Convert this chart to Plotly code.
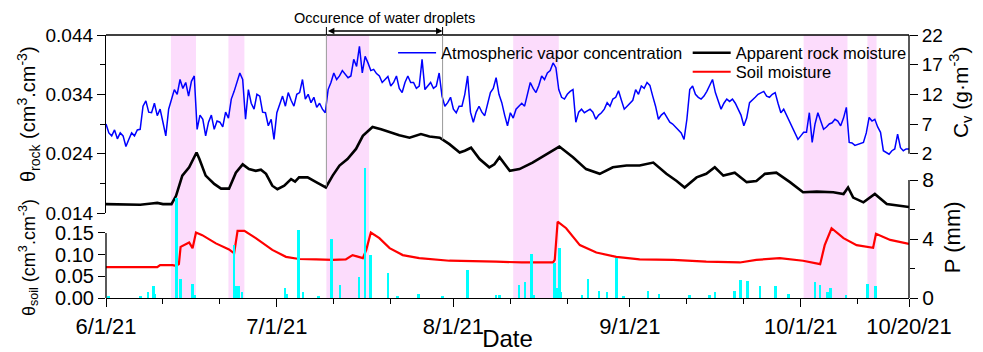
import numpy as np
import pandas as pd
import plotly.graph_objects as go

START = pd.Timestamp("2021-06-01")
N_DAYS = 141

# ---------------- data (day offsets from 2021-06-01) ----------------
# Atmospheric vapor concentration Cv (g m-3), one value every half day
cv_vals = [
    7.0, 5.5, 5.0, 6.0, 4.5, 5.5, 5.0, 3.2, 4.4, 5.5,
    5.0, 6.0, 6.1, 10.0, 10.9, 9.0, 8.9, 10.5, 8.4, 9.5,
    7.3, 5.0, 9.5, 11.0, 12.8, 12.0, 14.5, 13.0, 14.0, 11.7,
    14.2, 15.1, 6.1, 8.5, 7.8, 5.0, 7.3, 8.5, 6.1, 7.5,
    7.3, 6.5, 9.0, 8.0, 11.2, 12.5, 14.0, 15.6, 14.5, 7.8,
    12.8, 10.5, 9.5, 12.0, 11.7, 9.0, 8.9, 6.7, 7.8, 4.4,
    8.9, 10.5, 11.7, 10.0, 12.3, 11.0, 10.0, 12.0, 12.3, 14.5,
    11.2, 12.0, 10.6, 11.5, 9.8, 10.5, 9.5, 8.9, 12.8, 14.0,
    15.6, 14.5, 15.1, 16.0, 15.3, 14.8, 15.1, 17.9, 16.7, 20.1,
    15.6, 18.4, 17.3, 16.0, 16.2, 15.5, 15.1, 14.0, 14.5, 15.0,
    13.4, 14.0, 15.1, 13.0, 12.3, 14.0, 15.1, 14.0, 14.0, 13.0,
    13.4, 17.9, 12.8, 13.5, 14.0, 13.0, 13.4, 15.6, 11.7, 10.0,
    10.6, 11.5, 9.5, 8.9, 10.0, 10.0, 12.0, 15.1, 9.0, 7.3,
    9.0, 10.0, 9.0, 8.4, 10.5, 12.3, 13.0, 14.8, 12.0, 10.6,
    8.5, 6.7, 8.9, 8.0, 9.5, 10.0, 10.5, 10.0, 12.0, 14.0,
    13.0, 12.3, 13.5, 15.1, 14.5, 15.6, 16.0, 17.3, 16.5, 12.8,
    11.5, 11.2, 12.0, 12.5, 12.8, 7.3, 9.0, 9.5, 8.9, 9.2,
    9.5, 9.0, 7.8, 8.5, 8.9, 9.5, 10.6, 10.0, 11.2, 11.5,
    12.6, 11.0, 9.5, 10.0, 10.6, 11.0, 12.8, 12.0, 13.4, 13.0,
    14.0, 13.5, 11.7, 10.0, 7.8, 8.5, 8.9, 8.0, 7.3, 7.0,
    6.5, 6.1, 5.5, 4.4, 7.8, 12.8, 13.4, 12.0, 11.5, 11.2,
    11.7, 12.5, 13.5, 14.5, 12.3, 11.0, 9.5, 10.5, 11.2, 10.8,
    11.2, 10.5, 9.5, 8.5, 6.7, 8.0, 10.6, 11.0, 11.5, 12.0,
    12.3, 12.5, 11.7, 11.5, 12.0, 12.3, 10.5, 8.9, 9.5, 8.5,
    7.3, 6.5, 5.5, 4.4, 5.0, 5.6, 5.6, 8.9, 3.9, 7.0,
    8.9, 7.5, 6.1, 6.5, 7.0, 7.2, 7.8, 7.5, 6.7, 8.0,
    9.8, 3.9, 3.8, 3.4, 3.6, 3.8, 3.9, 5.5, 8.1, 7.5,
    7.8, 6.5, 5.6, 2.5, 2.2, 1.9, 2.5, 2.8, 5.3, 3.0,
    2.5, 2.8, 2.8,
]
cv_day = [0.5 * i for i in range(len(cv_vals))]

# Apparent rock moisture (cm3 cm-3)
rock_day = [0, 3, 6, 8, 9, 10, 11.5, 12.3, 13.4, 14.6, 15.5, 15.9, 16.4, 17.5, 19,
            20.2, 21.6, 22.8, 24, 25.1, 26.3, 27.2, 28.1, 29.2, 30.1, 31.3, 32.5,
            33.2, 33.9, 35.4, 36.9, 38.6, 39.8, 41, 42.4, 43.9, 45.1, 46, 46.8,
            48.3, 49.8, 51.5, 53.3, 55.3, 56.8, 58.6, 60.3, 62.1, 63, 64.1, 65.6,
            67.3, 68.2, 69.1, 70.9, 72.6, 74.9, 77.3, 79.6, 82, 84.3, 86.7, 89,
            91.4, 93.7, 96.1, 98.4, 100.2, 101.6, 103.7, 105.4, 106.9, 108.4,
            110.4, 112.5, 114.2, 115.7, 117.7, 120.1, 122.4, 124.8, 127.7, 129.5,
            130.3, 131.2, 133, 135, 137.1, 139.4, 141]
rock_val = [0.0155, 0.0155, 0.0154, 0.0156, 0.0157, 0.0155, 0.0155, 0.0169, 0.0203,
            0.0217, 0.0234, 0.0242, 0.0231, 0.0203, 0.0189, 0.0181, 0.0181, 0.0208,
            0.0222, 0.0214, 0.0211, 0.0213, 0.0206, 0.0186, 0.0180, 0.0186, 0.0197,
            0.0193, 0.0200, 0.0200, 0.0192, 0.0183, 0.0203, 0.0220, 0.0231, 0.0248,
            0.0270, 0.0278, 0.0285, 0.0281, 0.0276, 0.0271, 0.0267, 0.0273, 0.0269,
            0.0267, 0.0256, 0.0242, 0.0245, 0.0250, 0.0231, 0.0217, 0.0222, 0.0234,
            0.0211, 0.0214, 0.0225, 0.0239, 0.0252, 0.0234, 0.0214, 0.0206, 0.0217,
            0.0220, 0.0220, 0.0225, 0.0206, 0.0194, 0.0183, 0.0200, 0.0206, 0.0217,
            0.0203, 0.0208, 0.0192, 0.0194, 0.0206, 0.0208, 0.0192, 0.0175, 0.0176,
            0.0175, 0.0172, 0.0183, 0.0166, 0.0158, 0.0172, 0.0155, 0.0152, 0.0150]

# Soil moisture (cm3 cm-3)
soil_day = [0, 5, 9, 9.5, 11.7, 12.3, 12.8, 13.1, 14.6, 15.2, 15.8, 16.9, 19.3, 21.6,
            22.5, 23.1, 24.3, 26.3, 29.2, 31.6, 33.9, 36.9, 39.8, 42.1, 43.3, 45.1,
            45.7, 46.5, 48, 49.8, 52.1, 55, 60.3, 68.5, 73, 78.5, 78.8, 79.3, 80.8,
            83.2, 86.1, 89.6, 93.7, 99.6, 105.4, 111.3, 114.2, 118.3, 122.4, 125.4,
            126.2, 127.4, 129.5, 131.8, 134.7, 135.2, 137.7, 141]
soil_val = [0.071, 0.071, 0.071, 0.076, 0.076, 0.074, 0.078, 0.118, 0.128, 0.115,
            0.151, 0.145, 0.126, 0.112, 0.103, 0.155, 0.155, 0.138, 0.111, 0.095,
            0.090, 0.089, 0.088, 0.089, 0.099, 0.092, 0.111, 0.151, 0.138, 0.115,
            0.099, 0.092, 0.086, 0.084, 0.082, 0.082, 0.088, 0.176, 0.161, 0.122,
            0.105, 0.095, 0.089, 0.088, 0.084, 0.082, 0.088, 0.092, 0.086, 0.078,
            0.122, 0.161, 0.138, 0.122, 0.116, 0.148, 0.134, 0.125]

# Precipitation P (mm)
p_day = [0.4, 6.1, 7.4, 8.3, 8.6, 12.4, 13.1, 15.2, 15.6, 22.5, 22.8, 23.3, 23.9,
         31.4, 31.7, 33.8, 34.6, 37.3, 39.6, 41.1, 44.4, 45.5, 46.4, 49.5, 51.2,
         54.9, 59.1, 63.5, 68.5, 69.1, 72.5, 73.6, 74.7, 75.1, 78.8, 79.2, 79.6,
         79.9, 83.6, 84.6, 86.6, 88.0, 89.6, 90.9, 95.2, 97.1, 102.5, 106.0, 106.9,
         110.4, 111.4, 112.6, 114.8, 117.6, 119.8, 124.5, 125.4, 126.7, 127.2,
         129.9, 133.7, 135.1]
p_val = [0.1, 0.1, 0.4, 0.8, 0.3, 6.8, 1.3, 0.95, 0.2, 3.6, 0.8, 0.8, 0.4, 0.7, 0.3,
         4.6, 0.4, 0.1, 4.0, 0.9, 1.4, 8.8, 2.9, 1.7, 0.1, 0.3, 0.1, 1.9, 0.2, 0.2,
         0.9, 1.1, 3.0, 0.2, 2.4, 0.7, 3.4, 0.4, 0.2, 1.3, 0.5, 0.4, 2.7, 0.1, 0.5,
         0.3, 0.2, 0.2, 0.4, 0.5, 1.2, 1.15, 0.8, 0.8, 0.3, 1.1, 0.9, 0.4, 0.7, 0.2,
         0.95, 0.8]

# Rain periods (shaded) and water-droplet period
rain_periods = [(11.4, 15.8), (21.5, 24.3), (38.7, 46.2), (71.5, 79.5),
                (122.5, 130.2), (133.7, 135.3)]
droplet_period = (38.7, 59.1)

x_tick_days = [0, 30, 61, 92, 122, 141]
x_tick_labels = ["6/1/21", "7/1/21", "8/1/21", "9/1/21", "10/1/21", "10/20/21"]
x_minor_days = [10, 20, 40, 50, 71, 81, 102, 112, 132]

rock_ticks = [0.014, 0.024, 0.034, 0.044]
rock_minor = [0.019, 0.029, 0.039]
cv_ticks = [2, 7, 12, 17, 22]
soil_ticks = [0.0, 0.05, 0.10, 0.15]
p_ticks = [0, 4, 8]
p_minor = [2, 6]

# ---------------- helpers ----------------
def to_date(days):
    return [START + pd.Timedelta(days=float(d)) for d in days]

FONT = "Arial, 'Liberation Sans', sans-serif"
ROCK_DOM = [0.3232, 1.0]
LOW_DOM = [0.0, 0.5247]
ROCK_RANGE = [0.014, 0.044]
CV_RANGE = [-8, 22]
SOIL_RANGE = [0, 0.3184]
P_RANGE = [0, 9.356]

def rock_to_paper(v):
    return ROCK_DOM[0] + (v - ROCK_RANGE[0]) / (ROCK_RANGE[1] - ROCK_RANGE[0]) * (ROCK_DOM[1] - ROCK_DOM[0])

fig = go.Figure()

fig.add_trace(go.Scatter(x=to_date(cv_day), y=cv_vals, mode="lines", yaxis="y2",
                         line=dict(color="#0000ff", width=1.5),
                         name="Atmospheric vapor concentration", legend="legend"))
fig.add_trace(go.Scatter(x=to_date(rock_day), y=rock_val, mode="lines", yaxis="y",
                         line=dict(color="black", width=2.6),
                         name="Apparent rock moisture", legend="legend2"))
fig.add_trace(go.Scatter(x=to_date(soil_day), y=soil_val, mode="lines", yaxis="y3",
                         line=dict(color="#ff0000", width=2.2),
                         name="Soil moisture", legend="legend3"))
fig.add_trace(go.Bar(x=to_date(p_day), y=p_val, yaxis="y4", width=0.45 * 86400000,
                     marker=dict(color="#00ffff", line=dict(width=0)),
                     showlegend=False, name="P"))

shapes = []
for s, e in rain_periods:
    d0, d1 = to_date([s, e])
    shapes.append(dict(type="rect", xref="x", yref="paper", x0=d0, x1=d1, y0=0, y1=1,
                       fillcolor="#fcdcfc", line=dict(width=0), layer="below"))
# top frame
shapes.append(dict(type="line", xref="paper", yref="paper", x0=0, x1=1, y0=1, y1=1,
                   line=dict(color="black", width=1.3)))
# partial axis lines
shapes.append(dict(type="line", xref="paper", yref="y2", x0=1, x1=1, y0=cv_ticks[0], y1=cv_ticks[-1],
                   line=dict(color="black", width=1.3)))
shapes.append(dict(type="line", xref="paper", yref="y3", x0=0, x1=0, y0=soil_ticks[0], y1=soil_ticks[-1],
                   line=dict(color="black", width=1.3)))
shapes.append(dict(type="line", xref="paper", yref="y4", x0=1, x1=1, y0=p_ticks[0], y1=p_ticks[-1],
                   line=dict(color="black", width=1.3)))
# droplet guide lines
top_arrow = 1.0304
for d in droplet_period:
    yb = rock_to_paper(float(np.interp(d, rock_day, rock_val)))
    xd = to_date([d])[0]
    shapes.append(dict(type="line", xref="x", yref="paper", x0=xd, x1=xd, y0=yb, y1=1.0,
                       line=dict(color="#9a9a9a", width=1)))
    shapes.append(dict(type="line", xref="x", yref="paper", x0=xd, x1=xd, y0=1.0, y1=top_arrow,
                       line=dict(color="black", width=1)))

annotations = []
ds, de = to_date(droplet_period)
annotations.append(dict(x=de, y=1.0152, xref="x", yref="paper", ax=ds, ay=0, axref="x",
                        ayref="pixel", showarrow=True, arrowhead=2, arrowside="end+start",
                        arrowwidth=1.3, arrowsize=1, arrowcolor="black", text=""))
annotations.append(dict(x=to_date([(droplet_period[0] + droplet_period[1]) / 2])[0], y=1.0646,
                        xref="x", yref="paper", xanchor="center", yanchor="middle", showarrow=False,
                        text="Occurence of water droplets", font=dict(size=14.5, color="black", family=FONT)))
annotations.append(dict(x=-0.0971, y=0.6996, xref="paper", yref="paper", xanchor="center", yanchor="middle",
                        showarrow=False, textangle=-90,
                        text="θ<sub>rock</sub> (cm<sup>3</sup>.cm<sup>-3</sup>)",
                        font=dict(size=20, color="black", family=FONT)))
annotations.append(dict(x=-0.0971, y=0.152, xref="paper", yref="paper", xanchor="center", yanchor="middle",
                        showarrow=False, textangle=-90,
                        text="θ<sub>soil</sub> (cm<sup>3</sup>.cm<sup>-3</sup>)",
                        font=dict(size=18, color="black", family=FONT)))
annotations.append(dict(x=1.0635, y=0.783, xref="paper", yref="paper", xanchor="center", yanchor="middle",
                        showarrow=False, textangle=-90,
                        text="C<sub>v</sub> (g·m<sup>-3</sup>)",
                        font=dict(size=21, color="black", family=FONT)))
annotations.append(dict(x=1.055, y=0.232, xref="paper", yref="paper", xanchor="center", yanchor="middle",
                        showarrow=False, textangle=-90,
                        text="P (mm)", font=dict(size=22, color="black", family=FONT)))

axis_common = dict(showgrid=False, zeroline=False, ticks="outside", tickcolor="black",
                   tickwidth=1.3, linecolor="black", linewidth=1.3, automargin=False)

legend_common = dict(xanchor="left", yanchor="middle", bgcolor="rgba(0,0,0,0)", itemwidth=38,
                     font=dict(size=16.5, family=FONT, color="black"), tracegroupgap=0, borderwidth=0)

fig.update_layout(
    width=983, height=352,
    margin=dict(l=106, r=74, t=35, b=54, autoexpand=False),
    paper_bgcolor="white", plot_bgcolor="rgba(0,0,0,0)",
    font=dict(family=FONT, color="black"),
    showlegend=True,
    bargap=0,
    xaxis=dict(type="date", range=to_date([0, N_DAYS]), anchor="y3", showline=True,
               tickmode="array", tickvals=to_date(x_tick_days), ticktext=x_tick_labels,
               ticklen=8, tickfont=dict(size=22),
               minor=dict(tickmode="array", tickvals=to_date(x_minor_days), ticks="outside",
                          ticklen=5, tickcolor="black", tickwidth=1.3),
               title=dict(text="Date", font=dict(size=24), standoff=0),
               **axis_common),
    yaxis=dict(domain=ROCK_DOM, range=ROCK_RANGE, anchor="x", showline=True,
               tickmode="array", tickvals=rock_ticks, ticktext=[f"{v:.3f}" for v in rock_ticks],
               ticklen=8, tickfont=dict(size=19),
               minor=dict(tickmode="array", tickvals=rock_minor, ticks="outside", ticklen=5,
                          tickcolor="black", tickwidth=1.3),
               **axis_common),
    yaxis2=dict(overlaying="y", side="right", range=CV_RANGE, anchor="x", showline=False,
                tickmode="array", tickvals=cv_ticks, ticktext=[str(v) for v in cv_ticks],
                ticklen=8, tickfont=dict(size=19), **axis_common),
    yaxis3=dict(domain=LOW_DOM, range=SOIL_RANGE, anchor="x", showline=False,
                tickmode="array", tickvals=soil_ticks, ticktext=[f"{v:.2f}" for v in soil_ticks],
                ticklen=7, tickfont=dict(size=20), **axis_common),
    yaxis4=dict(overlaying="y3", side="right", range=P_RANGE, anchor="x", showline=False,
                tickmode="array", tickvals=p_ticks, ticktext=[str(v) for v in p_ticks],
                ticklen=8, tickfont=dict(size=21),
                minor=dict(tickmode="array", tickvals=p_minor, ticks="outside", ticklen=5,
                           tickcolor="black", tickwidth=1.3),
                **axis_common),
    legend=dict(x=0.3575, y=(298 - 53) / 263, **legend_common),
    legend2=dict(x=0.7244, y=(298 - 53) / 263, **legend_common),
    legend3=dict(x=0.7244, y=(298 - 72) / 263, **legend_common),
    shapes=shapes,
    annotations=annotations,
)

fig.write_html("out.html")
